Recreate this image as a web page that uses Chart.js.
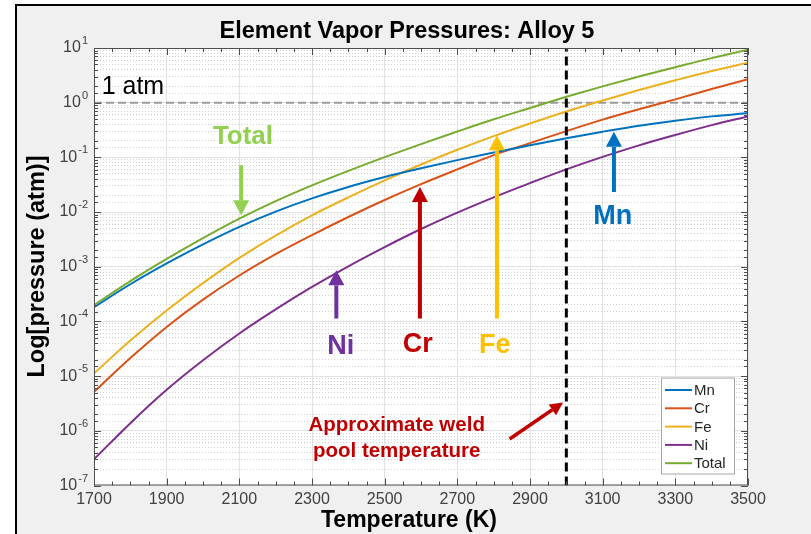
<!DOCTYPE html>
<html><head><meta charset="utf-8">
<script src="https://cdn.jsdelivr.net/npm/chart.js@4.4.0/dist/chart.umd.min.js"></script>
<style>
html,body{margin:0;padding:0;background:#fff;}
#wrap{position:relative;width:811px;height:534px;overflow:hidden;}
#frame{position:absolute;left:15px;top:4px;width:830px;height:560px;border-left:2px solid #000;border-top:2px solid #000;background:#f0f0f0;}
canvas{position:absolute;left:0;top:0;}
</style></head><body>
<div id="wrap"><div id="frame"></div><canvas id="c" width="811" height="534"></canvas></div>
<script>
// ---------- data ----------
const temperatures = [1700,1800,1900,2000,2100,2200,2300,2400,2500,2600,2700,2800,2900,3000,3100,3200,3300,3400,3500];
const mnPressure = [1.82e-4,4.79e-4,1.15e-3,2.57e-3,5.37e-3,1.02e-2,1.78e-2,2.88e-2,4.37e-2,6.31e-2,8.91e-2,0.123,0.166,0.224,0.295,0.380,0.468,0.562,0.646];
const crPressure = [5.13e-6,2.14e-5,7.94e-5,2.51e-4,6.92e-4,1.70e-3,3.80e-3,8.13e-3,1.66e-2,3.24e-2,6.03e-2,0.110,0.182,0.302,0.490,0.759,1.15,1.78,2.69];
const fePressure = [1.12e-5,4.47e-5,1.58e-4,5.01e-4,1.45e-3,3.72e-3,8.71e-3,1.86e-2,3.80e-2,7.41e-2,0.138,0.245,0.417,0.692,1.10,1.70,2.57,3.80,5.37];
const niPressure = [3.02e-7,1.38e-6,5.62e-6,1.95e-5,6.03e-5,1.66e-4,4.27e-4,1.02e-3,2.29e-3,4.90e-3,9.77e-3,1.86e-2,3.39e-2,6.03e-2,0.102,0.166,0.257,0.389,0.562];
const totalPressure = [1.99e-4,5.47e-4,1.39e-3,3.34e-3,7.57e-3,1.58e-2,3.07e-2,5.66e-2,0.101,0.175,0.297,0.497,0.799,1.28,1.99,3.01,4.45,6.53,9.27];
const seriesNames = ['Mn','Cr','Fe','Ni','Total'];
const xTickLabels = ['1700','1900','2100','2300','2500','2700','2900','3100','3300','3500'];
const yTickValues = [1e-7,1e-6,1e-5,1e-4,1e-3,1e-2,1e-1,1,10];
const yTickExponents = ['-7','-6','-5','-4','-3','-2','-1','0','1'];
const oneAtm = 1;
const weldTemperature = 3000;
const tempRange = [1700, 3500];
const pressureRange = [1e-7, 10];

// annotation placements (data units)
const arrowNotes = [
  {x:2105, from:0.072,  to:8.7e-3, color:'#92D050'},
  {x:3131, from:0.0233, to:0.293,  color:'#0070C0'},
  {x:2367, from:1.13e-4, to:8.6e-4, color:'#7030A0'},
  {x:2597, from:1.13e-4, to:0.0288, color:'#C00000'},
  {x:2809, from:1.13e-4, to:0.255,  color:'#FFC000'}
];
const weldArrow = {x1:2844, y1:7.1e-7, x2:2991, y2:3.3e-6, color:'#C00000'};
const textNotes = [
  {text:'1 atm', x:1721, y:1.9, color:'#000000', size:25, bold:false, align:'left'},
  {text:'Total', x:2110, y:0.234, color:'#92D050', size:26, bold:true, align:'center'},
  {text:'Mn', x:3128, y:8.4e-3, color:'#0070C0', size:27, bold:true, align:'center'},
  {text:'Ni', x:2379, y:3.5e-5, color:'#7030A0', size:27, bold:true, align:'center'},
  {text:'Cr', x:2591, y:3.8e-5, color:'#C00000', size:27, bold:true, align:'center'},
  {text:'Fe', x:2803, y:3.7e-5, color:'#FFC000', size:27, bold:true, align:'center'},
  {text:'Approximate weld', x:2533, y:1.25e-6, color:'#C00000', size:20.5, bold:true, align:'center'},
  {text:'pool temperature', x:2533, y:4.2e-7, color:'#C00000', size:20.5, bold:true, align:'center'}
];
const chartTitle = 'Element Vapor Pressures: Alloy 5';
const xTitle = 'Temperature (K)';
const yTitle = 'Log[pressure (atm)]';

// ---------- styles ----------
const FAMILY = "'Liberation Sans', Arial, Helvetica, sans-serif";
const seriesColors = ['#0072BD','#D95319','#EDB120','#7E2F8E','#77AC30'];
const seriesData = [mnPressure, crPressure, fePressure, niPressure, totalPressure];

function isDecade(v){ const e = Math.log10(v); return Math.abs(e - Math.round(e)) < 1e-6; }
function isMajorX(v){ return xTickLabels.indexOf(String(v)) >= 0; }

const datasets = seriesNames.map((name, k) => ({
  label: name,
  data: temperatures.map((t, i) => ({x: t, y: seriesData[k][i]})),
  borderColor: seriesColors[k],
  backgroundColor: seriesColors[k],
  borderWidth: 2,
  pointRadius: 0,
  cubicInterpolationMode: 'monotone',
  fill: false,
  order: 2
}));
datasets.push({
  label: '1 atm',
  data: tempRange.map(t => ({x: t, y: oneAtm})),
  borderColor: '#9a9a9a', borderWidth: 2, borderDash: [8,4], pointRadius: 0, fill: false, order: 3
});
datasets.push({
  label: 'weld',
  data: pressureRange.map(p => ({x: weldTemperature, y: p})),
  borderColor: '#000000', borderWidth: 3, borderDash: [9,5], pointRadius: 0, fill: false, order: 1
});

function drawArrow(ctx, x1, y1, x2, y2, color, w, headLen, headW){
  const ang = Math.atan2(y2 - y1, x2 - x1);
  const bx = x2 - headLen * Math.cos(ang), by = y2 - headLen * Math.sin(ang);
  ctx.strokeStyle = color; ctx.lineWidth = w; ctx.lineCap = 'butt';
  ctx.beginPath(); ctx.moveTo(x1, y1); ctx.lineTo(bx, by); ctx.stroke();
  ctx.fillStyle = color; ctx.beginPath(); ctx.moveTo(x2, y2);
  ctx.lineTo(bx + headW/2 * Math.sin(ang), by - headW/2 * Math.cos(ang));
  ctx.lineTo(bx - headW/2 * Math.sin(ang), by + headW/2 * Math.cos(ang));
  ctx.closePath(); ctx.fill();
}

const decor = {
  id: 'decor',
  beforeDraw(chart){
    const {ctx, chartArea: a} = chart;
    ctx.save(); ctx.fillStyle = '#ffffff';
    ctx.fillRect(a.left, a.top, a.right - a.left, a.bottom - a.top);
    ctx.restore();
  },
  afterDatasetsDraw(chart){
    const {ctx, chartArea: a, scales: {x, y}} = chart;
    ctx.save();
    // box
    ctx.strokeStyle = '#4d4d4d'; ctx.lineWidth = 1;
    ctx.strokeRect(a.left + 0.5, a.top + 0.5, a.right - a.left - 1, a.bottom - a.top - 1);
    // inner ticks
    ctx.beginPath();
    y.ticks.forEach(t => {
      const py = Math.round(y.getPixelForValue(t.value)) + 0.5;
      const len = isDecade(t.value) ? 7 : 4;
      ctx.moveTo(a.left, py); ctx.lineTo(a.left + len, py);
      ctx.moveTo(a.right, py); ctx.lineTo(a.right - len, py);
    });
    x.ticks.forEach(t => {
      const px = Math.round(x.getPixelForValue(t.value)) + 0.5;
      const len = isMajorX(t.value) ? 7 : 4;
      ctx.moveTo(px, a.bottom); ctx.lineTo(px, a.bottom - len);
      ctx.moveTo(px, a.top); ctx.lineTo(px, a.top + len);
    });
    ctx.stroke();
    // y tick labels 10^n
    ctx.fillStyle = '#404040'; ctx.textBaseline = 'middle';
    yTickValues.forEach((v, i) => {
      const py = y.getPixelForValue(v);
      const right = a.left - 6;
      ctx.font = '11px ' + FAMILY; ctx.textAlign = 'right';
      const ew = ctx.measureText(yTickExponents[i]).width;
      ctx.fillText(yTickExponents[i], right, py - 7);
      ctx.font = '16px ' + FAMILY;
      ctx.fillText('10', right - ew - 1, py);
    });
    // titles
    ctx.fillStyle = '#000'; ctx.textAlign = 'center'; ctx.textBaseline = 'middle';
    ctx.font = 'bold 23.5px ' + FAMILY;
    ctx.fillText(chartTitle, 407, 32);
    ctx.font = 'bold 23px ' + FAMILY;
    ctx.fillText(xTitle, 409, 521);
    ctx.save();
    ctx.translate(38, 266.5); ctx.rotate(-Math.PI / 2);
    ctx.font = 'bold 23.5px ' + FAMILY;
    ctx.fillText(yTitle, 0, 0);
    ctx.restore();
    // arrows
    arrowNotes.forEach(n => {
      drawArrow(ctx, x.getPixelForValue(n.x), y.getPixelForValue(n.from), x.getPixelForValue(n.x), y.getPixelForValue(n.to), n.color, 4, 15, 16);
    });
    drawArrow(ctx, x.getPixelForValue(weldArrow.x1), y.getPixelForValue(weldArrow.y1), x.getPixelForValue(weldArrow.x2), y.getPixelForValue(weldArrow.y2), weldArrow.color, 3.5, 13, 13);
    // text notes
    textNotes.forEach(n => {
      ctx.font = (n.bold ? 'bold ' : '') + n.size + 'px ' + FAMILY;
      ctx.fillStyle = n.color; ctx.textAlign = n.align; ctx.textBaseline = 'middle';
      ctx.fillText(n.text, x.getPixelForValue(n.x), y.getPixelForValue(n.y));
    });
    // legend
    const lw = 73, lh = 96;
    const lx = a.right - 14 - lw, ly = a.bottom - 12 - lh;
    ctx.fillStyle = '#ffffff'; ctx.fillRect(lx, ly, lw, lh);
    ctx.strokeStyle = '#a6a6a6'; ctx.lineWidth = 1; ctx.strokeRect(lx + 0.5, ly + 0.5, lw, lh);
    ctx.font = '15px ' + FAMILY; ctx.textAlign = 'left'; ctx.textBaseline = 'middle';
    seriesNames.forEach((name, i) => {
      const ry = ly + 12.5 + i * 18.3;
      ctx.strokeStyle = seriesColors[i]; ctx.lineWidth = 2;
      ctx.beginPath(); ctx.moveTo(lx + 4, ry); ctx.lineTo(lx + 31, ry); ctx.stroke();
      ctx.fillStyle = '#262626'; ctx.fillText(name, lx + 33, ry + 1);
    });
    ctx.restore();
  }
};

new Chart(document.getElementById('c'), {
  type: 'line',
  data: { datasets },
  options: {
    responsive: false, animation: false, devicePixelRatio: 1,
    layout: { padding: { left: 0, right: 63, top: 48, bottom: 0 } },
    plugins: {
      legend: { display: false },
      tooltip: { enabled: false },
      title: { display: false }
    },
    scales: {
      x: {
        type: 'linear', min: tempRange[0], max: tempRange[1],
        afterFit(s){ s.height = 48.5; },
        ticks: {
          stepSize: 50, autoSkip: false, maxRotation: 0, padding: 4, color: '#404040',
          font: { family: FAMILY, size: 16 },
          callback: (v) => isMajorX(v) ? String(v) : ''
        },
        grid: { drawTicks: false, lineWidth: 1, color: (c) => (c.tick && isMajorX(c.tick.value)) ? '#e2e2e2' : 'rgba(0,0,0,0)' },
        border: { display: false }
      },
      y: {
        type: 'logarithmic', min: pressureRange[0], max: pressureRange[1],
        afterFit(s){ s.width = 94; },
        ticks: { display: false, autoSkip: false },
        grid: { drawTicks: false, lineWidth: 1, color: (c) => (c.tick && isDecade(c.tick.value)) ? '#e2e2e2' : '#d0d0d0' },
        border: { display: false, dash: (c) => (c.tick && !isDecade(c.tick.value)) ? [1,2] : [] }
      }
    }
  },
  plugins: [decor]
});
</script>
</body></html>
